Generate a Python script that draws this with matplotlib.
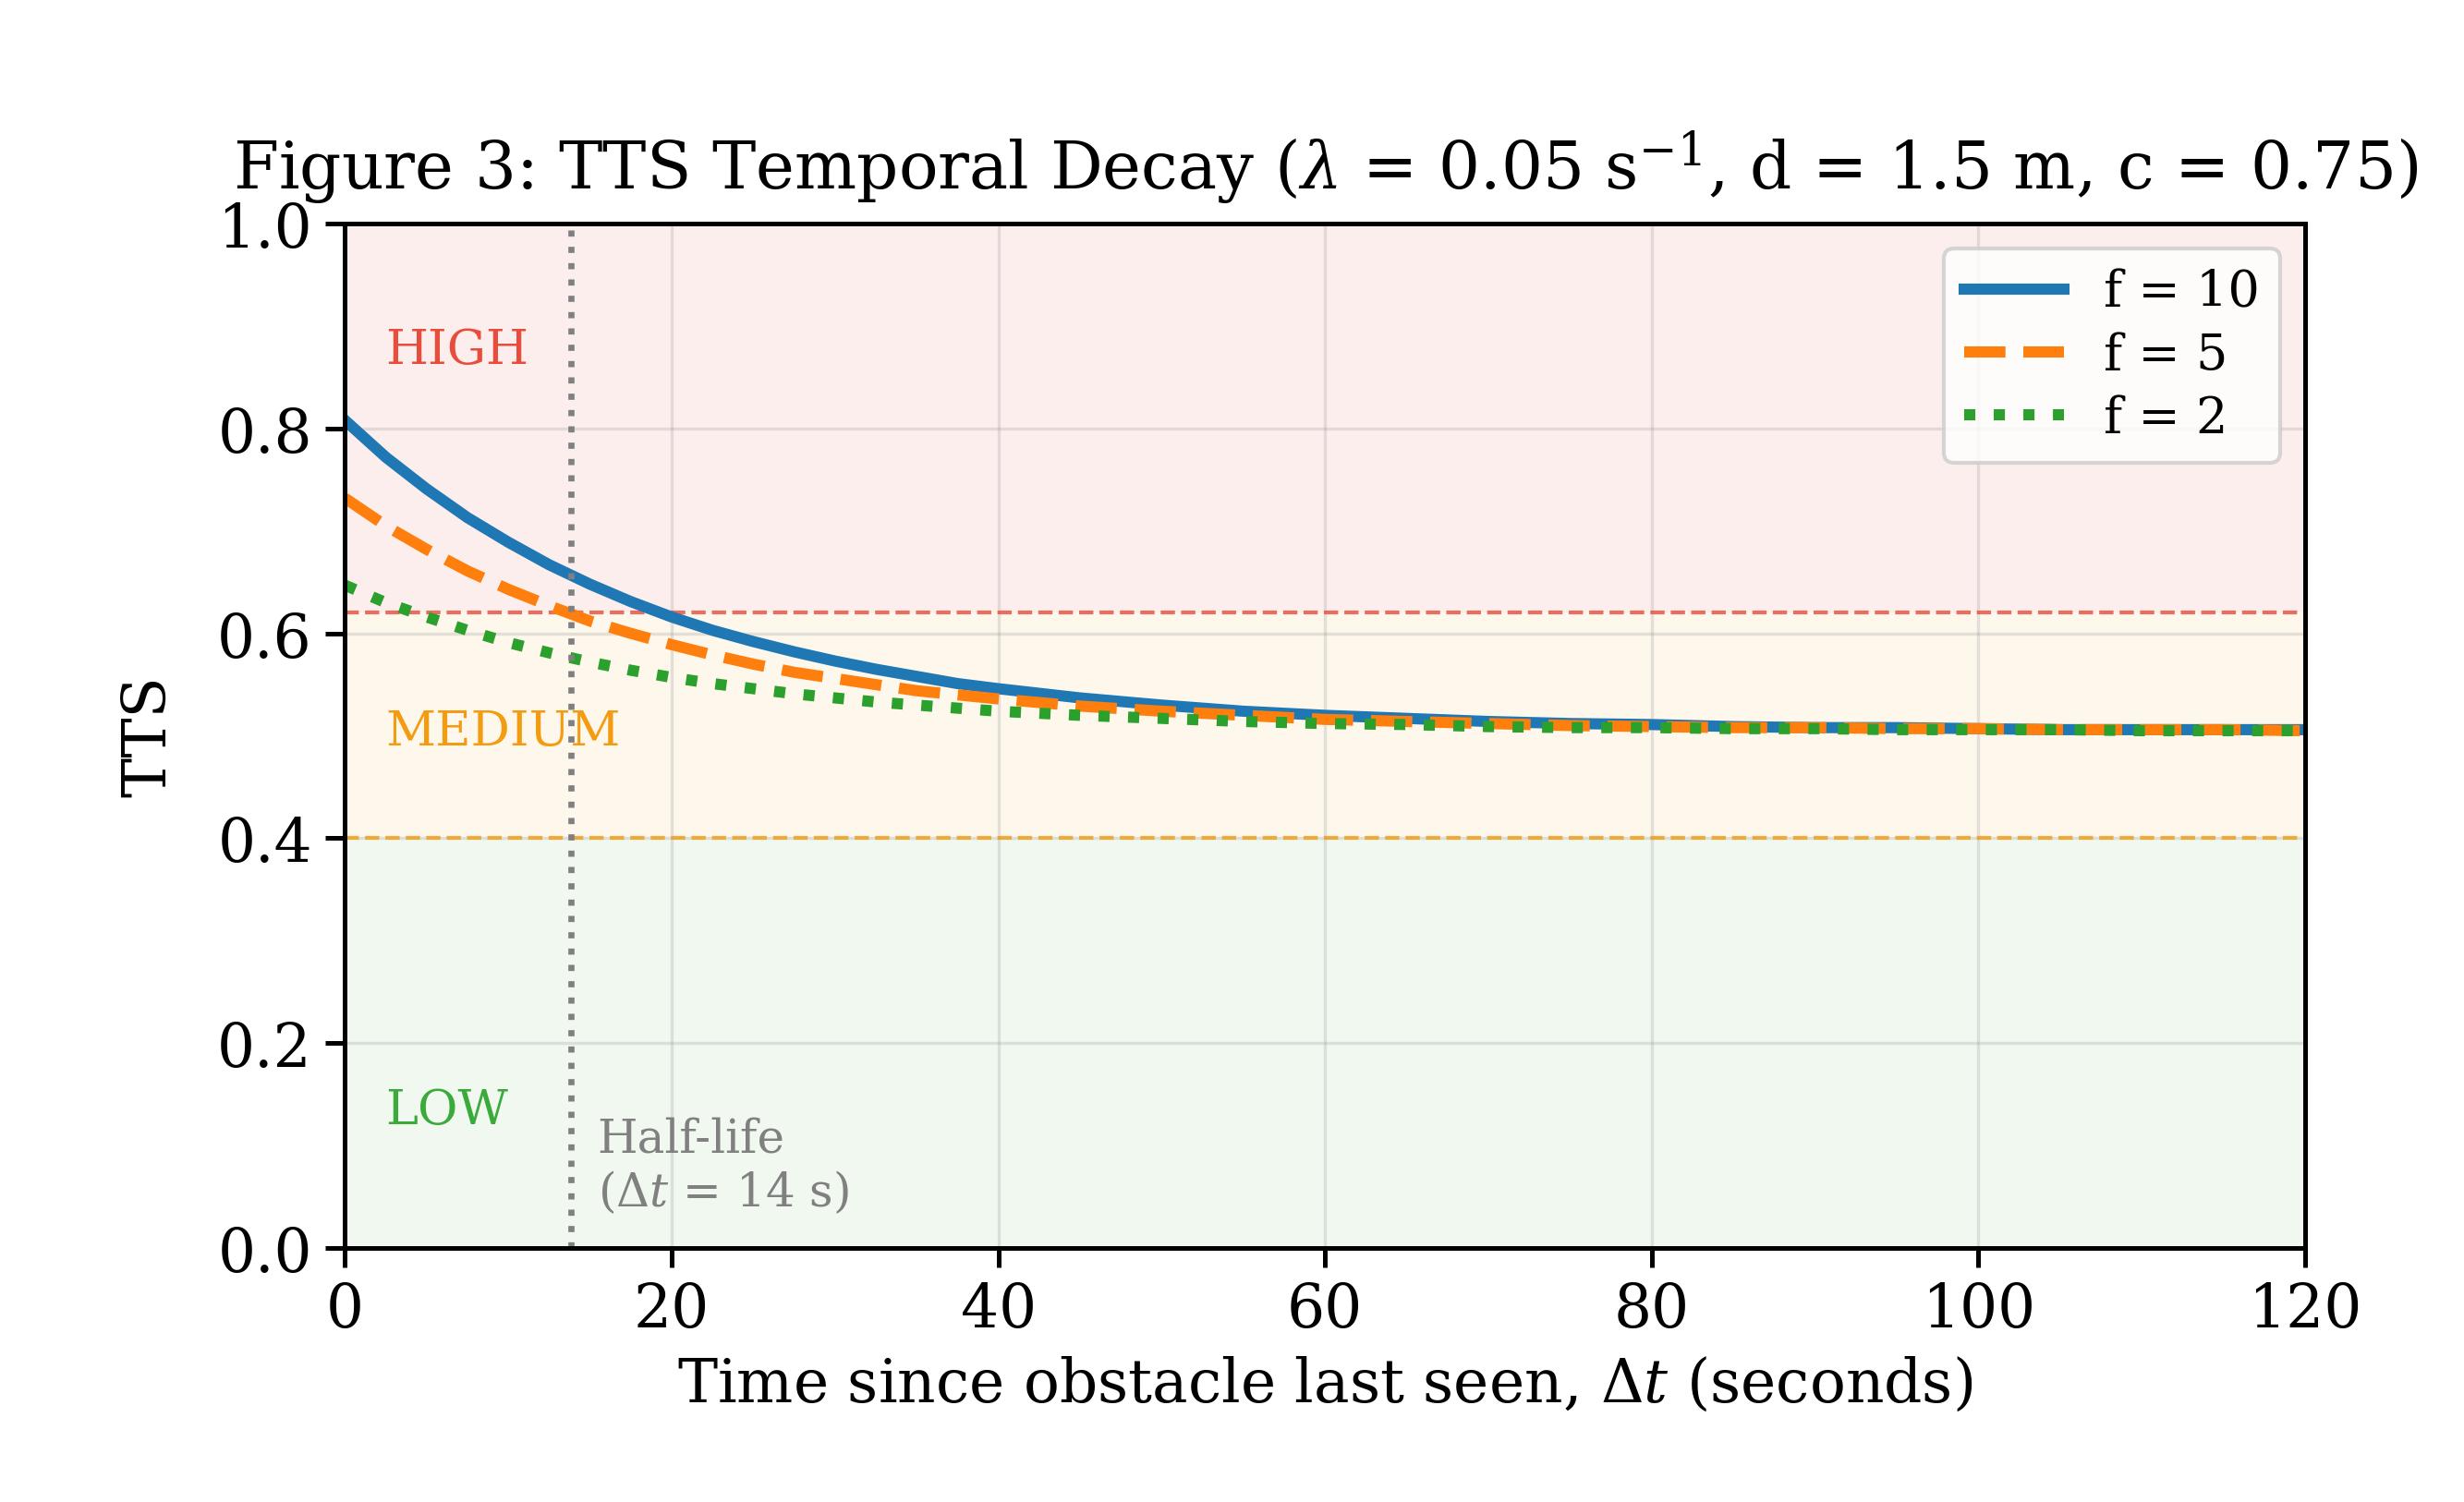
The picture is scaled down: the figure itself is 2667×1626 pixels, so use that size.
import matplotlib
matplotlib.use("Agg")
import matplotlib.pyplot as plt
import numpy as np

plt.rcParams['font.family'] = 'DejaVu Serif'
plt.rcParams['mathtext.fontset'] = 'dejavuserif'

# values (2.5 s steps early, 5 s later)
t = [0, 2.5, 5, 7.5, 10, 12.5, 15, 17.5, 20, 22.5, 25, 27.5, 30, 32.5, 35, 37.5, 40,
     45, 50, 55, 60, 65, 70, 75, 80, 85, 90, 95, 100, 105, 110, 115, 120]
tts_f10 = [0.808, 0.772, 0.741, 0.713, 0.689, 0.667, 0.648, 0.631, 0.616, 0.603,
           0.592, 0.582, 0.573, 0.565, 0.558, 0.551, 0.546,
           0.537, 0.530, 0.524, 0.520, 0.517, 0.514, 0.512, 0.511, 0.509, 0.508,
           0.508, 0.507, 0.506, 0.506, 0.506, 0.506]
tts_f5 = [0.732, 0.705, 0.682, 0.661, 0.643, 0.627, 0.612, 0.600, 0.589, 0.579,
          0.570, 0.562, 0.556, 0.550, 0.544, 0.540, 0.536,
          0.529, 0.524, 0.520, 0.516, 0.514, 0.512, 0.510, 0.509, 0.508, 0.508,
          0.507, 0.507, 0.506, 0.506, 0.506, 0.505]
tts_f2 = [0.647, 0.630, 0.616, 0.603, 0.591, 0.581, 0.572, 0.564, 0.557, 0.551,
          0.546, 0.541, 0.537, 0.533, 0.530, 0.527, 0.524,
          0.520, 0.517, 0.514, 0.512, 0.511, 0.509, 0.508, 0.508, 0.507, 0.507,
          0.506, 0.506, 0.506, 0.505, 0.505, 0.505]

high_thr = 0.62
med_thr = 0.40
half_life = 13.86

fig = plt.figure(figsize=(2667 / 300, 1627 / 300), dpi=300)
ax = fig.add_axes([0.140, 0.169, 0.7955, 0.6816])

# risk zones
ax.axhspan(high_thr, 1.0, color='#e74c3c', alpha=0.09, lw=0)
ax.axhspan(med_thr, high_thr, color='#f39c12', alpha=0.08, lw=0)
ax.axhspan(0.0, med_thr, color='#2ca02c', alpha=0.07, lw=0)
ax.axhline(high_thr, color='#e74c3c', ls='--', lw=1.0, alpha=0.8)
ax.axhline(med_thr, color='#f39c12', ls='--', lw=1.0, alpha=0.8)

ax.plot(t, tts_f10, color='#1f77b4', ls='-', lw=2.9, label='f = 10')
ax.plot(t, tts_f5, color='#ff7f0e', ls='--', lw=2.9, label='f = 5')
ax.plot(t, tts_f2, color='#2ca02c', ls=':', lw=2.9, label='f = 2')

ax.axvline(half_life, color='gray', ls=':', lw=1.6)
ax.text(half_life + 1.6, 0.08, 'Half-life\n($\\Delta t$ = 14 s)', color='gray',
        fontsize=12, va='center', ha='left')

ax.text(2.5, 0.877, 'HIGH', color='#e74c3c', fontsize=12.7, va='center')
ax.text(2.5, 0.505, 'MEDIUM', color='#f39c12', fontsize=12.7, va='center')
ax.text(2.5, 0.135, 'LOW', color='#3aaa3a', fontsize=12.7, va='center')

ax.set_xlim(0, 120)
ax.set_ylim(0, 1.0)
ax.set_xticks([0, 20, 40, 60, 80, 100, 120])
ax.set_yticks([0.0, 0.2, 0.4, 0.6, 0.8, 1.0])
ax.tick_params(labelsize=15.5, width=1.2, length=5)
for s in ax.spines.values():
    s.set_linewidth(1.2)
ax.grid(True, color='gray', alpha=0.2, lw=0.8)

ax.set_xlabel('Time since obstacle last seen, $\\Delta t$ (seconds)', fontsize=15.5)
ax.set_ylabel('TTS', fontsize=15.5, labelpad=10)
ax.set_title('Figure 3: TTS Temporal Decay ($\\lambda$ = 0.05 s$^{-1}$, d = 1.5 m, c = 0.75)',
             fontsize=17, pad=9)
ax.legend(loc='upper right', fontsize=13, labelspacing=0.3)

fig.savefig('out.png', dpi=300)
